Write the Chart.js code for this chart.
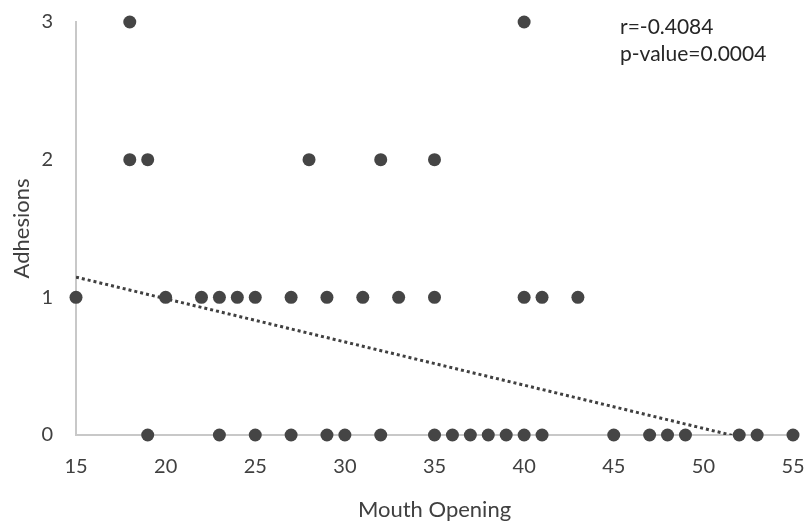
<!DOCTYPE html>
<html>
<head>
<meta charset="utf-8">
<script src="https://cdn.jsdelivr.net/npm/chart.js@4"></script>
<style>
  html, body { margin: 0; padding: 0; background: #ffffff; }
  #wrap { position: relative; width: 809px; height: 523px; }
  #note { position: absolute; left: 620px; top: 12px; font-family: Lato, "Open Sans", sans-serif;
          font-size: 21px; line-height: 27px; color: #262626; white-space: nowrap; }
</style>
</head>
<body>
<div id="wrap">
  <canvas id="c" width="809" height="523"></canvas>
  <div id="note">r=-0.4084<br>p-value=0.0004</div>
</div>
<script>
// Data
const mouthOpening = [18, 40, 18, 19, 28, 32, 35,
  15, 20, 22, 23, 24, 25, 27, 29, 31, 33, 35, 40, 41, 43,
  19, 23, 25, 27, 29, 30, 32, 35, 36, 37, 38, 39, 40, 41, 45, 47, 48, 49, 52, 53, 55];
const adhesions = [3, 3, 2, 2, 2, 2, 2,
  1, 1, 1, 1, 1, 1, 1, 1, 1, 1, 1, 1, 1, 1,
  0, 0, 0, 0, 0, 0, 0, 0, 0, 0, 0, 0, 0, 0, 0, 0, 0, 0, 0, 0, 0];
const trendX = [15, 55];
const trendY = [1.147, -0.109];
const xTicks = [15, 20, 25, 30, 35, 40, 45, 50, 55];
const yTicks = [0, 1, 2, 3];

const pts = mouthOpening.map((x, i) => ({ x: x, y: adhesions[i] }));
const trend = trendX.map((x, i) => ({ x: x, y: trendY[i] }));

const FONT = 'Lato, "Open Sans", sans-serif';

new Chart(document.getElementById('c'), {
  type: 'scatter',
  data: {
    datasets: [
      {
        type: 'line',
        data: trend,
        borderColor: '#404040',
        borderWidth: 3,
        borderDash: [3, 3],
        pointRadius: 0,
        fill: false,
        clip: 0,
        order: 2
      },
      {
        data: pts,
        backgroundColor: '#454545',
        borderColor: '#454545',
        borderWidth: 0,
        pointRadius: 6.5,
        pointHoverRadius: 6.5,
        clip: false,
        order: 1
      }
    ]
  },
  options: {
    responsive: false,
    animation: false,
    events: [],
    layout: { padding: { left: 0, right: 16, top: 22, bottom: 0 } },
    plugins: { legend: { display: false }, tooltip: { enabled: false } },
    scales: {
      x: {
        type: 'linear',
        min: 15, max: 55,
        afterBuildTicks: (s) => { s.ticks = xTicks.map(v => ({ value: v })); },
        afterFit: (s) => { s.height = 88; s.paddingLeft = 0; s.paddingRight = 0; },
        grid: { display: false, drawTicks: false },
        border: { display: true, color: '#c8c8c8', width: 2 },
        ticks: { padding: 20, color: '#404040', font: { family: FONT, size: 20 } },
        title: { display: true, text: 'Mouth Opening', color: '#404040',
                 font: { family: FONT, size: 22 }, padding: { top: 0, bottom: 0 } }
      },
      y: {
        type: 'linear',
        min: 0, max: 3,
        afterBuildTicks: (s) => { s.ticks = yTicks.map(v => ({ value: v })); },
        afterFit: (s) => { s.width = 76; s.paddingTop = 0; s.paddingBottom = 0; },
        grid: { display: false, drawTicks: false },
        border: { display: true, color: '#c8c8c8', width: 2 },
        ticks: { padding: 23, color: '#404040', font: { family: FONT, size: 20 } },
        title: { display: true, text: 'Adhesions', color: '#404040',
                 font: { family: FONT, size: 22 }, padding: { top: 9, bottom: 0 } }
      }
    }
  }
});
</script>
</body>
</html>
